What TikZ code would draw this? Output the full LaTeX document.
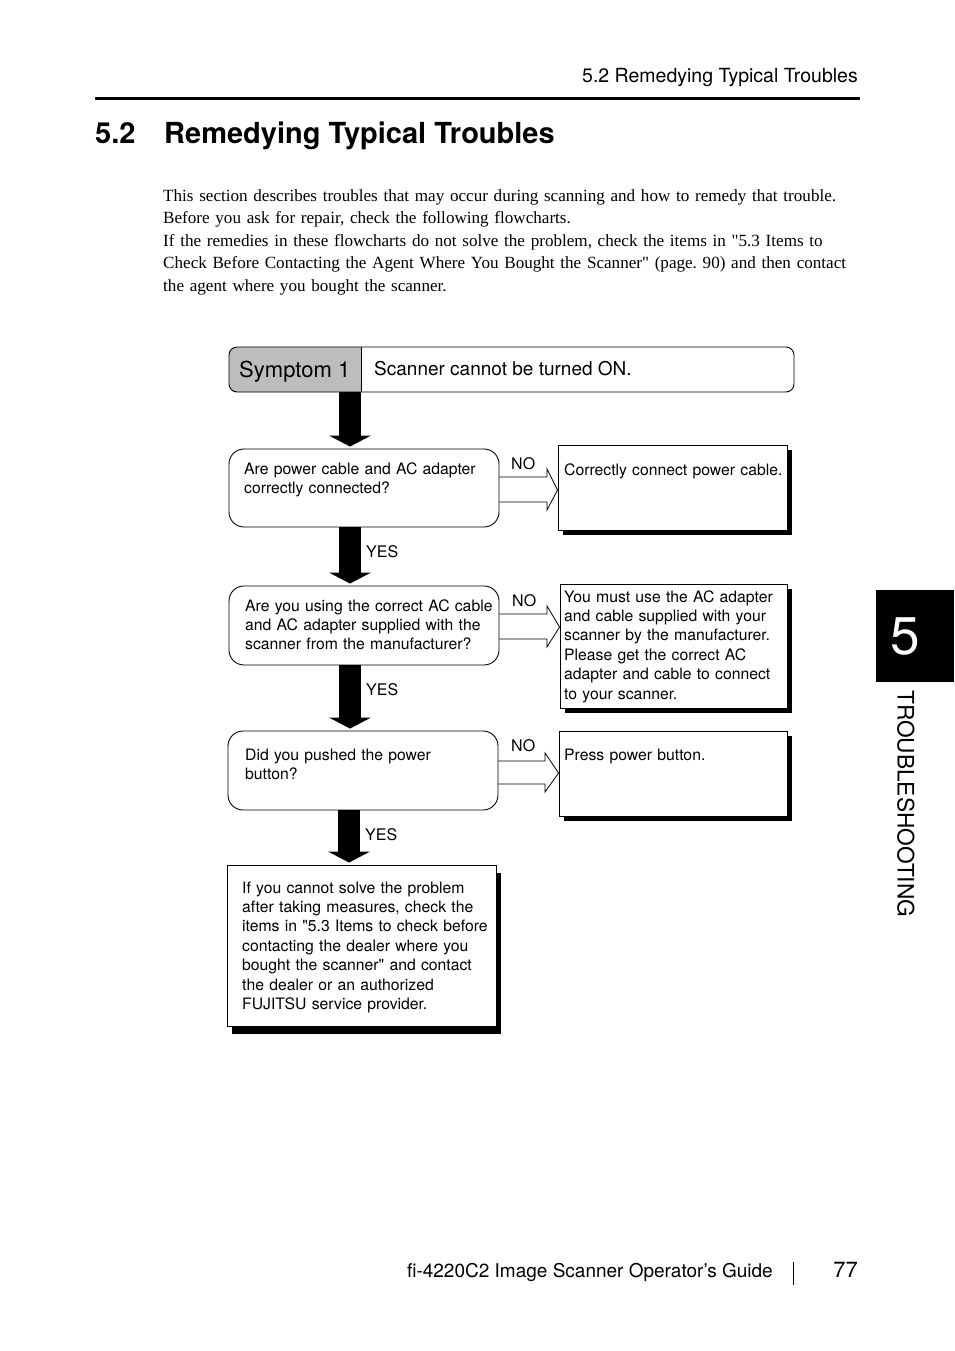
\documentclass[tikz,border=0pt]{standalone}
\usepackage{fontspec}
\setmainfont{Liberation Serif}
\newfontfamily\hv{TeX Gyre Heros}
\usetikzlibrary{arrows.meta,shadows}
\definecolor{symgray}{gray}{0.74}
\frenchspacing
\tikzset{
  lab/.style={font=\hv\fontsize{16}{19.4}\selectfont, inner sep=0, anchor=base west},
  body/.style={font=\hv\fontsize{15.75}{19.4}\selectfont, inner sep=0, anchor=base west, text width=300pt, align=left},
  qbox/.style={draw, line width=0.9pt, rounded corners=15pt, inner sep=0, minimum width=270pt, minimum height=79pt},
  abox/.style={draw, fill=white, line width=0.9pt, inner sep=0,
    drop shadow={shadow xshift=4.5pt, shadow yshift=-4.5pt, fill=black, opacity=1}},
  fbox/.style={draw, fill=white, line width=0.9pt, inner sep=0,
    drop shadow={shadow xshift=5pt, shadow yshift=-8pt, fill=black, opacity=1}},
  bigarrow/.style={line width=22pt, shorten >=2pt, -{Triangle[width=42pt,length=11pt,line width=0pt]}},
  hollow/.style={line width=0.8pt, line join=miter},
}
\begin{document}
\begin{tikzpicture}[x=1pt,y=-1pt]
\useasboundingbox (0,0) rectangle (954,1351);

% header
\node[inner sep=0, anchor=base east, font=\hv\fontsize{19.5}{22}\selectfont] (hdr) at (858,83) {5.2 Remedying Typical Troubles};
\draw[line width=3pt] (95,99) coordinate (rl) -- (860,99) coordinate (rr);
\node[inner sep=0, anchor=base west, font=\hv\bfseries\fontsize{29}{34}\selectfont] (tnum) at (95,144) {5.2};
\node[inner sep=0, anchor=base west, font=\hv\bfseries\fontsize{29}{34}\selectfont] (ttl) at (164,144) {Remedying Typical Troubles};

% paragraph
\node[inner sep=0, anchor=base west, text width=720pt, align=left, font=\fontsize{17.1}{22.5}\selectfont] (para) at (163,201)
{This section describes troubles that may occur during scanning and how to remedy that trouble.\\
Before you ask for repair, check the following flowcharts.\\
If the remedies in these flowcharts do not solve the problem, check the items in \textquotedbl5.3 Items to\\
Check Before Contacting the Agent Where You Bought the Scanner\textquotedbl\ (page. 90) and then contact\\
the agent where you bought the scanner.};

% symptom box
\begin{scope}
\clip (229,340) rectangle (361,400);
\fill[symgray, rounded corners=8pt] (229,347) rectangle (794,392);
\end{scope}
\node[draw, line width=0.9pt, rounded corners=8pt, inner sep=0, minimum width=565pt, minimum height=45pt] (sym) at (511.5,369.5) {};
\draw[line width=0.6pt] (sym.north -| 361,0) -- (sym.south -| 361,0);
\node[inner sep=0, anchor=base west, font=\hv\fontsize{22}{26}\selectfont] (symt) at (239,377) {Symptom 1};
\node[inner sep=0, anchor=base west, font=\hv\fontsize{19}{22}\selectfont] (symd) at (374,375) {Scanner cannot be turned ON.};

% question boxes
\node[qbox, minimum height=78pt] (q1) at (364,488) {};
\node[qbox] (q2) at (364,625.5) {};
\node[qbox] (q3) at (363,770.5) {};

% answer boxes
\node[abox, minimum width=229pt, minimum height=85pt] (a1) at (672.5,487.5) {};
\node[abox, minimum width=227pt, minimum height=124pt] (a2) at (673.5,646) {};
\node[abox, minimum width=228pt, minimum height=85pt] (a3) at (673,773.5) {};
\node[fbox, minimum width=269pt, minimum height=161pt] (fin) at (361.5,945.5) {};

% texts
\node[body] (q1t) at (244,474) {Are power cable and AC adapter\\correctly connected?};
\node[body] (q2t) at (245,611) {Are you using the correct AC cable\\and AC adapter supplied with the\\scanner from the manufacturer?};
\node[body] (q3t) at (245,760) {Did you pushed the power\\button?};
\node[body] (a1t) at (564,475) {Correctly connect power cable.};
\node[body] (a2t) at (564,602) {You must use the AC adapter\\and cable supplied with your\\scanner by the manufacturer.\\Please get the correct AC\\adapter and cable to connect\\to your scanner.};
\node[body] (a3t) at (564,760) {Press power button.};
\node[body] (fint) at (242,893) {If you cannot solve the problem\\after taking measures, check the\\items in \textquotedbl5.3 Items to check before\\contacting the dealer where you\\bought the scanner\textquotedbl\ and contact\\the dealer or an authorized\\FUJITSU service provider.};

% big arrows
\draw[bigarrow] (sym.south -| 350,0) -- (q1.north -| 350,0);
\draw[bigarrow] (q1.south -| 350,0) -- (q2.north -| 350,0);
\draw[bigarrow] (q2.south -| 350,0) -- (q3.north -| 350,0);
\draw[bigarrow] (q3.south -| 349,0) -- (fin.north -| 349,0);

% YES / NO labels
\node[lab] (y1) at (366,557) {YES};
\node[lab] (y2) at (366,695) {YES};
\node[lab] (y3) at (365,840) {YES};
\node[lab] (n1) at (511,469) {NO};
\node[lab] (n2) at (512,606) {NO};
\node[lab] (n3) at (511,751) {NO};

% hollow arrows
\draw[hollow] (q1.east |- 0,477) -- (547,477) -- (547,469) -- (a1.west |- 0,490) -- (547,510) -- (547,502) -- (q1.east |- 0,502);
\draw[hollow] (q2.east |- 0,614) -- (547,614) -- (547,606) -- (a2.west |- 0,627) -- (547,647) -- (547,639) -- (q2.east |- 0,639);
\draw[hollow] (q3.east |- 0,761) -- (545,761) -- (545,753) -- (a3.west |- 0,773) -- (545,792) -- (545,784) -- (q3.east |- 0,784);

% side tab
\fill (876,590) rectangle (954,682);
\node[inner sep=0, text=white, font=\hv\fontsize{53}{60}\selectfont] (tabn) at (905,636) {5};
\node[inner sep=0, rotate=-90, anchor=west, font=\hv\fontsize{22.7}{26}\selectfont] (tabt) at (906,690) {TROUBLESHOOTING};

% footer
\node[inner sep=0, anchor=base east, font=\hv\fontsize{19}{22}\selectfont] (ftr) at (773,1277) {fi-4220C2 Image Scanner Operator’s Guide};
\draw[line width=0.8pt] (793,1262) coordinate (fb1) -- (793,1285) coordinate (fb2);
\node[inner sep=0, anchor=base east, font=\hv\fontsize{22}{26}\selectfont] (pg) at (858,1277) {77};
\end{tikzpicture}
\end{document}
